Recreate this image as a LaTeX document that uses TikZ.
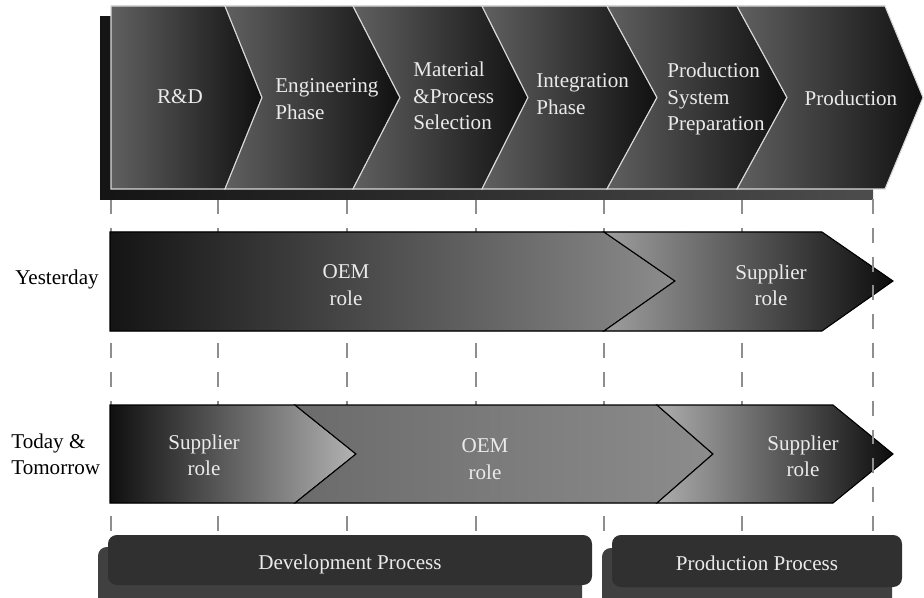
\documentclass[tikz,border=0pt]{standalone}
\usepackage{fontspec}
\setmainfont{Liberation Serif}
\definecolor{chevlight}{HTML}{606060}
\definecolor{chevdark}{HTML}{101010}
\definecolor{edgegray}{HTML}{DADADA}
\definecolor{textgray}{HTML}{EAEAEA}
\definecolor{guidegray}{HTML}{8E8E8E}
\definecolor{boxdark}{HTML}{303030}
\definecolor{boxshadow}{HTML}{404040}
\begin{document}
\begin{tikzpicture}[
                            x=0.02cm, y=-0.02cm,
                            stage/.style={draw=edgegray, line width=0.6pt, left color=chevlight, right color=chevdark},
                            part/.style={draw=black, line width=0.6pt},
                            guide/.style={draw=guidegray, line width=1.7pt, dash pattern=on 8.5pt off 7.9pt},
                            procbox/.style={rounded corners=5pt, fill=boxdark},
                            procshadow/.style={rounded corners=5pt, fill=boxshadow},
                            lbl/.style={font=\fontsize{12}{15}\selectfont, inner sep=0pt},
                            inlbl/.style={lbl, text=textgray}
                        ]
                        \clip (0,0) rectangle (924,598);

                        % Guides
                        \foreach \x in {111,218,347,476,604,742}
                            \draw [guide] (\x,199) -- (\x,532);

                        % Stages
                        \fill [left color=black!92, right color=black!70] (100,17) rectangle (873,200);
                        \filldraw [stage] (111,6) -- (225,6) -- (262,97.5) -- (225,189) -- (111,189) -- cycle;
                        \filldraw [stage] (225,6) -- (353,6) -- (400,97.5) -- (353,189) -- (225,189) -- (262,97.5) -- cycle;
                        \filldraw [stage] (353,6) -- (482,6) -- (528,97.5) -- (482,189) -- (353,189) -- (400,97.5) -- cycle;
                        \filldraw [stage] (482,6) -- (607,6) -- (657,97.5) -- (607,189) -- (482,189) -- (528,97.5) -- cycle;
                        \filldraw [stage] (607,6) -- (737,6) -- (787,97.5) -- (737,189) -- (607,189) -- (657,97.5) -- cycle;
                        \filldraw [stage] (737,6) -- (885,6) -- (923,97.5) -- (885,189) -- (737,189) -- (787,97.5) -- cycle;

                        \node [inlbl] (rd) at (180,97) {R\&D};
                        \node [inlbl, align=left, anchor=west] (eng) at (275,99) {Engineering\\Phase};
                        \node [inlbl, align=left, anchor=west] (mat) at (413,96) {Material\\\&Process\\Selection};
                        \node [inlbl, align=left, anchor=west] (integ) at (536,94) {Integration\\Phase};
                        \node [inlbl, align=left, anchor=west] (prep) at (667,99) {Production\\System\\Preparation};
                        \node [inlbl] (prod) at (851,98) {Production};

                        % Yesterday
                        \node [lbl] (yesterday) at (57,279) {Yesterday};
                        \filldraw [part, left color=black!92, middle color=black!78, right color=black!45] (110,232) -- (604,232) -- (675,281) -- (604,331) -- (110,331) -- cycle;
                        \filldraw [part, left color=black!38, right color=black!95] (604,232) -- (822,232) -- (893,281) -- (822,331) -- (604,331) -- (675,281) -- cycle;
                        \node [inlbl, align=center] (oemY) at (346,285) {OEM\\role};
                        \node [inlbl, align=center] (supY) at (771,285) {Supplier\\role};

                        % Today & Tomorrow
                        \node [lbl, align=left, anchor=west] (today) at (11,454) {Today \&\\Tomorrow};
                        \filldraw [part, left color=black!94, right color=black!30] (110,405) -- (295,405) -- (356,454) -- (295,503) -- (110,503) -- cycle;
                        \filldraw [part, left color=black!58, middle color=black!82, right color=black!45] (295,405) -- (657,405) -- (713,454) -- (657,503) -- (295,503) -- (356,454) -- cycle;
                        \filldraw [part, left color=black!32, right color=black!95] (657,405) -- (833,405) -- (893,454) -- (833,503) -- (657,503) -- (713,454) -- cycle;
                        \node [inlbl, align=center] (supT) at (204,455) {Supplier\\role};
                        \node [inlbl, align=center] (oemT) at (485,459) {OEM\\role};
                        \node [inlbl, align=center] (supP) at (803,456) {Supplier\\role};

                        \draw [guide] (873,199) -- (873,532);

                        % Processes
                        \fill [procshadow] (98,547) rectangle (582,620);
                        \fill [procbox] (108,535) rectangle (592,585);
                        \fill [procshadow] (602,548) rectangle (892,620);
                        \fill [procbox] (612,535) rectangle (902,587);
                        \node [inlbl] (devproc) at (350,564) {Development Process};
                        \node [inlbl] (prodproc) at (757,563) {Production Process};
                    \end{tikzpicture}
\end{document}
